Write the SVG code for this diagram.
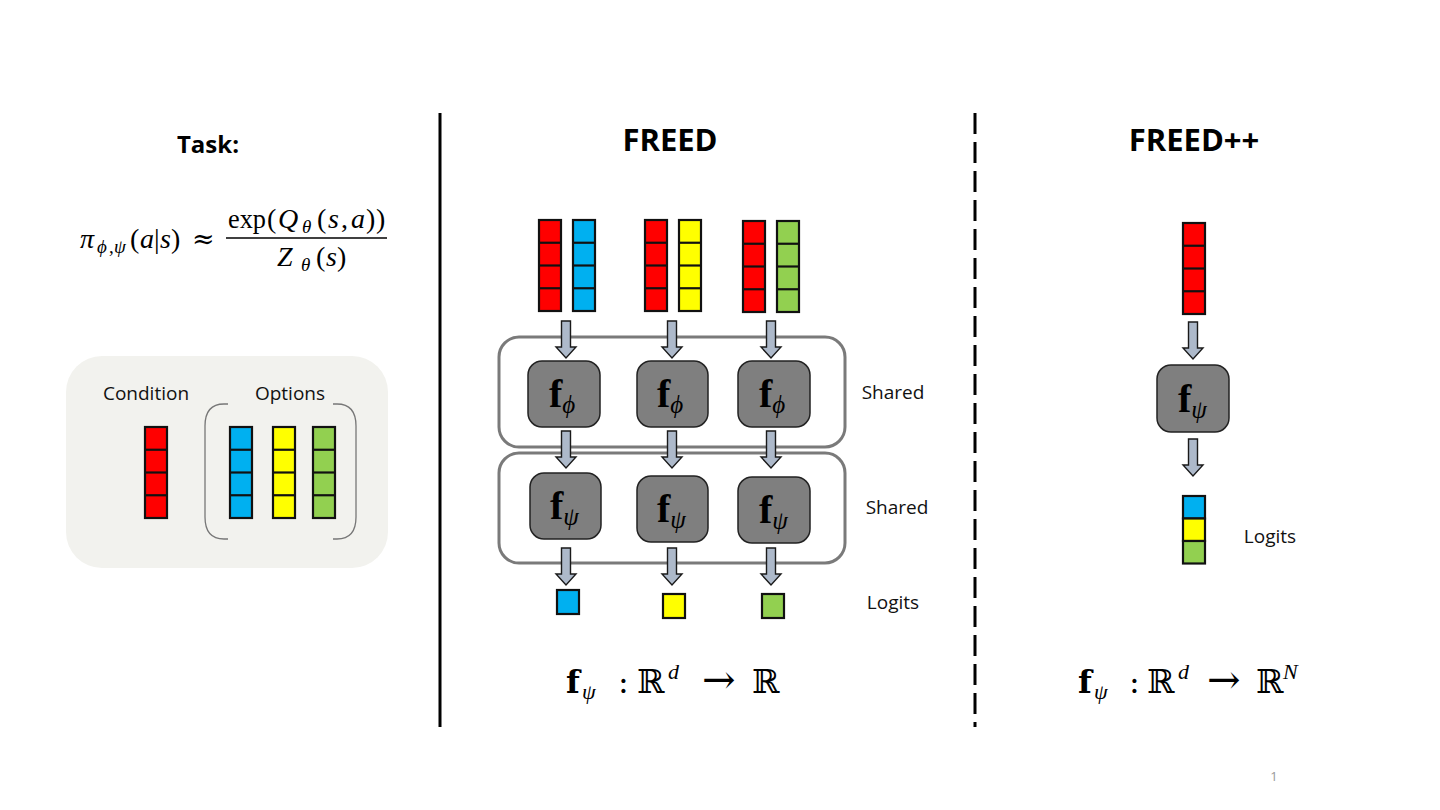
<svg xmlns="http://www.w3.org/2000/svg" xmlns:xlink="http://www.w3.org/1999/xlink" width="1440" height="810" viewBox="0 0 1440 810">
<style>
.lbl{font-family:"Open Sans","Liberation Sans",sans-serif;font-size:19px;fill:#111}
.ttl{font-family:"Open Sans","Liberation Sans",sans-serif;font-weight:bold;fill:#000}
.math{font-family:"Liberation Serif","DejaVu Serif",serif;fill:#000}
.dj{font-family:"DejaVu Serif","Liberation Serif",serif}
.it{font-style:italic}
.red{fill:#FF0000}.blue{fill:#00B0F0}.yel{fill:#FFFF00}.grn{fill:#92D050}
.cell{stroke:#111;stroke-width:2.2}
.fbox{fill:#7f7f7f;stroke:#222;stroke-width:1.5}
.shared{fill:none;stroke:#7a7a7a;stroke-width:3}
.arrow{fill:#ADB9CA;stroke:#1a1a1a;stroke-width:1.4}
.fl{font-family:"Liberation Serif","DejaVu Serif",serif;fill:#000}
</style>
<defs>
<g id="grid"><rect width="22" height="91" fill="none" stroke="#111" stroke-width="2.2"/><line x1="0" y1="22.75" x2="22" y2="22.75" stroke="#111" stroke-width="2.2"/><line x1="0" y1="45.5" x2="22" y2="45.5" stroke="#111" stroke-width="2.2"/><line x1="0" y1="68.25" x2="22" y2="68.25" stroke="#111" stroke-width="2.2"/></g>
<path id="arr" d="M-4.5,0 H4.5 V26 H10 L0,37 L-10,26 H-4.5 Z"/>
</defs>
<rect width="1440" height="810" fill="#fff"/>

<!-- separators -->
<line x1="440" y1="113" x2="440" y2="727" stroke="#000" stroke-width="3"/>
<line x1="975" y1="113" x2="975" y2="727" stroke="#000" stroke-width="3" stroke-dasharray="21 8"/>

<!-- Task panel -->
<g id="task">
<text class="ttl" x="208" y="153" text-anchor="middle" font-size="24">Task:</text>
<text class="math" font-size="28" y="248"><tspan x="80" class="it">π</tspan><tspan x="97" font-size="19" dy="5" class="it">ϕ</tspan><tspan x="109" font-size="19">,</tspan><tspan x="114" font-size="19" class="it">ψ</tspan><tspan x="130" dy="-5">(</tspan><tspan x="140" class="it">a</tspan><tspan x="154">|</tspan><tspan x="160" class="it">s</tspan><tspan x="171">)</tspan><tspan x="192" class="dj" font-size="27">≈</tspan></text>
<text class="math" font-size="28" y="228"><tspan x="228" textLength="38" lengthAdjust="spacingAndGlyphs">exp</tspan><tspan x="267">(</tspan><tspan x="278" class="it">Q</tspan><tspan x="302" font-size="19" dy="5" class="it">θ</tspan><tspan x="317" dy="-5">(</tspan><tspan x="328" class="it">s</tspan><tspan x="341">,</tspan><tspan x="351" class="it">a</tspan><tspan x="366">)</tspan><tspan x="376">)</tspan></text>
<line x1="226" y1="238" x2="387" y2="238" stroke="#000" stroke-width="1.3"/>
<text class="math" font-size="28" y="266"><tspan x="277" class="it">Z</tspan><tspan x="301" font-size="19" dy="5" class="it">θ</tspan><tspan x="316" dy="-5">(</tspan><tspan x="326" class="it">s</tspan><tspan x="337">)</tspan></text>
</g>

<g id="task-box">
<rect x="66" y="356" width="322" height="212" rx="36" fill="#F2F2EE"/>
<text class="lbl" x="146" y="400" text-anchor="middle">Condition</text>
<text class="lbl" x="290" y="400" text-anchor="middle">Options</text>
<rect class="red" x="145" y="427" width="22" height="91"/><use xlink:href="#grid" x="145" y="427"/>
<rect class="blue" x="230" y="427" width="22" height="91"/><use xlink:href="#grid" x="230" y="427"/>
<rect class="yel" x="273" y="427" width="22" height="91"/><use xlink:href="#grid" x="273" y="427"/>
<rect class="grn" x="313" y="427" width="22" height="91"/><use xlink:href="#grid" x="313" y="427"/>
<path d="M228,404 H224 Q205,404 205,426 V517 Q205,539 224,539 H228" fill="none" stroke="#777" stroke-width="1.3"/>
<path d="M333,404 H337 Q356,404 356,426 V517 Q356,539 337,539 H333" fill="none" stroke="#777" stroke-width="1.3"/>
</g>

<!-- FREED -->
<g id="freed-title"><text class="ttl" x="670" y="151" text-anchor="middle" font-size="31">FREED</text></g>

<g id="freed-inputs">
<rect class="red" x="539" y="220" width="22" height="91"/><use xlink:href="#grid" x="539" y="220"/>
<rect class="blue" x="573" y="220" width="22" height="91"/><use xlink:href="#grid" x="573" y="220"/>
<rect class="red" x="645" y="220" width="22" height="91"/><use xlink:href="#grid" x="645" y="220"/>
<rect class="yel" x="679" y="220" width="22" height="91"/><use xlink:href="#grid" x="679" y="220"/>
<rect class="red" x="743" y="221" width="22" height="91"/><use xlink:href="#grid" x="743" y="221"/>
<rect class="grn" x="777" y="221" width="22" height="91"/><use xlink:href="#grid" x="777" y="221"/>
</g>

<g id="shared-phi">
<rect class="shared" x="499" y="337" width="346" height="110" rx="20"/>
<text class="lbl" x="893" y="399" text-anchor="middle">Shared</text>
</g>
<g id="shared-psi">
<rect class="shared" x="499" y="453" width="346" height="110" rx="20"/>
<text class="lbl" x="897" y="514" text-anchor="middle">Shared</text>
</g>

<g id="fphi-1"><rect class="fbox" x="528" y="361" width="72" height="66" rx="14"/><text class="fl" y="407"><tspan x="549" font-size="40" font-weight="bold">f</tspan><tspan font-size="25" class="it" dy="6">ϕ</tspan></text></g>
<g id="fphi-2"><rect class="fbox" x="637" y="361" width="71" height="66" rx="14"/><text class="fl" y="407"><tspan x="657" font-size="40" font-weight="bold">f</tspan><tspan font-size="25" class="it" dy="6">ϕ</tspan></text></g>
<g id="fphi-3"><rect class="fbox" x="738" y="361" width="72" height="66" rx="14"/><text class="fl" y="407"><tspan x="759" font-size="40" font-weight="bold">f</tspan><tspan font-size="25" class="it" dy="6">ϕ</tspan></text></g>

<g id="fpsi-1"><rect class="fbox" x="530" y="473" width="71" height="66" rx="14"/><text class="fl" y="519"><tspan x="550" font-size="40" font-weight="bold">f</tspan><tspan font-size="25" class="it" dy="6">ψ</tspan></text></g>
<g id="fpsi-2"><rect class="fbox" x="637" y="476" width="71" height="66" rx="14"/><text class="fl" y="522"><tspan x="657" font-size="40" font-weight="bold">f</tspan><tspan font-size="25" class="it" dy="6">ψ</tspan></text></g>
<g id="fpsi-3"><rect class="fbox" x="738" y="477" width="72" height="66" rx="14"/><text class="fl" y="523"><tspan x="759" font-size="40" font-weight="bold">f</tspan><tspan font-size="25" class="it" dy="6">ψ</tspan></text></g>

<g id="freed-logits">
<rect class="blue cell" x="557" y="590" width="22" height="24"/>
<rect class="yel cell" x="663" y="594" width="22" height="24"/>
<rect class="grn cell" x="762" y="594" width="22" height="24"/>
<text class="lbl" x="893" y="609" text-anchor="middle">Logits</text>
</g>

<g id="freed-formula">
<text class="math dj" font-size="32" y="693"><tspan x="566" font-weight="bold">f</tspan><tspan x="582" font-size="22" class="it math" dy="6">ψ</tspan><tspan x="618" dy="-6">:</tspan><tspan x="637" font-size="33">ℝ</tspan><tspan x="668" font-size="22" class="it math" dy="-14">d</tspan><tspan x="702" dy="14" font-size="40">→</tspan><tspan x="752" font-size="33">ℝ</tspan></text>
</g>

<!-- FREED++ -->
<g id="freedpp-title"><text class="ttl" x="1194" y="151" text-anchor="middle" font-size="31">FREED++</text></g>
<g id="freedpp-input"><rect class="red" x="1183" y="223" width="22" height="91"/><use xlink:href="#grid" x="1183" y="223"/></g>
<g id="freedpp-fpsi"><rect class="fbox" x="1157" y="365" width="72" height="67" rx="14"/><text class="fl" y="412"><tspan x="1178" font-size="40" font-weight="bold">f</tspan><tspan font-size="25" class="it" dy="6">ψ</tspan></text></g>
<g id="freedpp-logits">
<rect class="blue cell" x="1183" y="496" width="22" height="22.5"/>
<rect class="yel cell" x="1183" y="518.5" width="22" height="22.5"/>
<rect class="grn cell" x="1183" y="541" width="22" height="22.5"/>
<text class="lbl" x="1270" y="543" text-anchor="middle">Logits</text>
</g>
<g id="freedpp-formula">
<text class="math dj" font-size="32" y="693"><tspan x="1078" font-weight="bold">f</tspan><tspan x="1094" font-size="22" class="it math" dy="6">ψ</tspan><tspan x="1129" dy="-6">:</tspan><tspan x="1147" font-size="33">ℝ</tspan><tspan x="1178" font-size="22" class="it math" dy="-14">d</tspan><tspan x="1207" dy="14" font-size="40">→</tspan><tspan x="1256" font-size="33">ℝ</tspan><tspan x="1283" font-size="22" class="it math" dy="-14">N</tspan></text>
</g>

<!-- connectors -->
<g id="connectors">
<use xlink:href="#arr" class="arrow" x="566" y="321"/>
<use xlink:href="#arr" class="arrow" x="672" y="321"/>
<use xlink:href="#arr" class="arrow" x="771" y="321"/>
<use xlink:href="#arr" class="arrow" x="566" y="431"/>
<use xlink:href="#arr" class="arrow" x="672" y="431"/>
<use xlink:href="#arr" class="arrow" x="771" y="431"/>
<use xlink:href="#arr" class="arrow" x="566" y="548"/>
<use xlink:href="#arr" class="arrow" x="672" y="548"/>
<use xlink:href="#arr" class="arrow" x="771" y="548"/>
<use xlink:href="#arr" class="arrow" x="1193" y="322"/>
<use xlink:href="#arr" class="arrow" x="1193" y="439"/>
</g>

<text x="1274" y="781" text-anchor="middle" font-family="Open Sans, Liberation Sans, sans-serif" font-size="13" fill="#999">1</text>
</svg>
